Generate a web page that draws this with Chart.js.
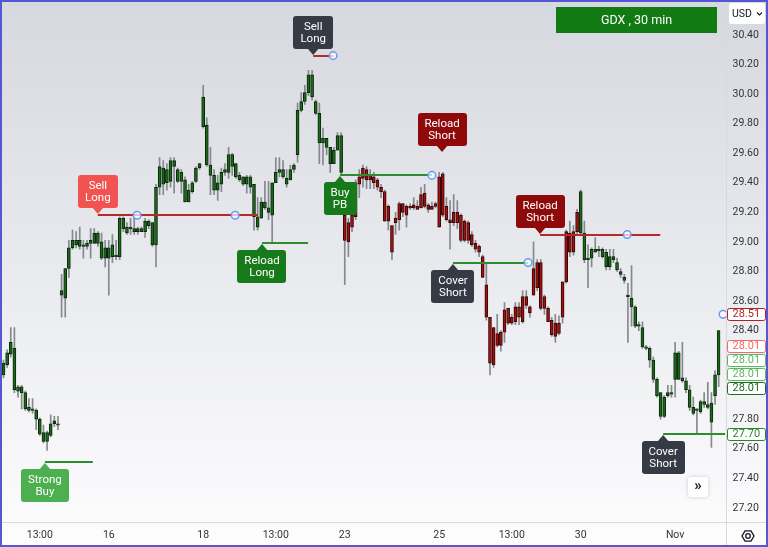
<!DOCTYPE html>
<html>
<head>
<meta charset="utf-8">
<script src="https://cdn.jsdelivr.net/npm/chart.js@4.4.0/dist/chart.umd.min.js"></script>
<style>
html, body { margin: 0; padding: 0; background: #fff; }
canvas { display: block; }
</style>
</head>
<body>
<canvas id="gdx" width="768" height="547"></canvas>
<script>
// GDX 30 min candles, Oct 11 (last 3 bars) to Nov 1

const sessions = ['Oct 11', 'Oct 12', 'Oct 13', 'Oct 16', 'Oct 17', 'Oct 18', 'Oct 19', 'Oct 20',
  'Oct 23', 'Oct 24', 'Oct 25', 'Oct 26', 'Oct 27', 'Oct 30', 'Oct 31', 'Nov 1'];
const halfHours = ['09:30', '10:00', '10:30', '11:00', '11:30', '12:00', '12:30',
  '13:00', '13:30', '14:00', '14:30', '15:00', '15:30'];

// one row per session (first row = last 3 bars of Oct 11)
const opens = [
  28.10, 28.17, 28.24,
  28.28, 27.99, 28.02, 27.98, 27.88, 27.87, 27.86, 27.80, 27.71, 27.65, 27.69, 27.77, 27.77,
  28.64, 28.62, 28.82, 28.96, 29.01, 28.97, 28.98, 28.97, 28.99, 28.99, 29.06, 29.00, 28.89,
  28.96, 28.90, 28.91, 28.90, 29.16, 29.10, 29.09, 29.09, 29.07, 29.09, 29.07, 29.14, 29.13,
  28.98, 29.37, 29.50, 29.40, 29.41, 29.55, 29.49, 29.41, 29.42, 29.27, 29.34, 29.41, 29.50,
  29.78, 29.79, 29.52, 29.45, 29.35, 29.39, 29.47, 29.47, 29.59, 29.53, 29.45, 29.44, 29.39,
  29.44, 29.39, 29.17, 29.16, 29.27, 29.23, 29.18, 29.40, 29.47, 29.49, 29.43, 29.42, 29.49,
  29.59, 29.89, 29.95, 30.01, 30.13, 29.95, 29.87, 29.67, 29.70, 29.64, 29.53, 29.62, 29.72,
  29.18, 29.00, 29.10, 29.17, 29.39, 29.43, 29.49, 29.42, 29.44, 29.42, 29.37, 29.34, 29.14,
  29.11, 29.13, 29.15, 29.26, 29.18, 29.24, 29.23, 29.24, 29.23, 29.33, 29.25, 29.22, 29.24,
  29.44, 29.18, 29.24, 29.15, 29.13, 29.20, 29.18, 29.01, 29.13, 29.05, 28.99, 28.97, 28.90,
  28.71, 28.49, 28.17, 28.38, 28.30, 28.39, 28.55, 28.45, 28.46, 28.56, 28.46, 28.63, 28.56,
  28.64, 28.69, 28.86, 28.55, 28.55, 28.47, 28.36, 28.45, 28.49, 28.73, 29.06, 28.93, 29.07,
  29.06, 29.06, 28.88, 28.89, 28.95, 28.94, 28.95, 28.93, 28.83, 28.90, 28.86, 28.80, 28.76,
  28.64, 28.62, 28.56, 28.43, 28.42, 28.29, 28.28, 28.20, 28.07, 27.98, 27.82, 27.96, 27.97,
  28.07, 28.25, 28.08, 28.06, 28.00, 27.88, 27.86, 27.85, 27.92, 27.90, 27.91, 27.96, 28.10
];
const highs = [
  28.20, 28.27, 28.42,
  28.42, 28.03, 28.03, 27.99, 27.94, 27.94, 27.87, 27.81, 27.76, 27.72, 27.83, 27.82, 27.82,
  28.78, 28.82, 29.01, 29.08, 29.07, 29.10, 29.01, 29.01, 29.09, 29.09, 29.07, 29.06, 29.01,
  29.01, 29.05, 29.01, 29.17, 29.17, 29.13, 29.16, 29.16, 29.10, 29.10, 29.16, 29.15, 29.13,
  29.39, 29.57, 29.55, 29.53, 29.57, 29.57, 29.50, 29.49, 29.44, 29.39, 29.41, 29.51, 29.53,
  30.06, 29.84, 29.64, 29.49, 29.45, 29.50, 29.53, 29.64, 29.60, 29.53, 29.47, 29.44, 29.45,
  29.45, 29.39, 29.30, 29.30, 29.41, 29.41, 29.40, 29.57, 29.57, 29.55, 29.49, 29.52, 29.53,
  29.94, 30.01, 30.06, 30.16, 30.16, 29.96, 29.94, 29.77, 29.70, 29.64, 29.64, 29.74, 29.74,
  29.18, 29.16, 29.25, 29.42, 29.49, 29.52, 29.51, 29.49, 29.47, 29.43, 29.39, 29.35, 29.25,
  29.11, 29.20, 29.27, 29.26, 29.25, 29.26, 29.30, 29.28, 29.37, 29.39, 29.26, 29.27, 29.27,
  29.47, 29.47, 29.30, 29.28, 29.32, 29.28, 29.19, 29.15, 29.14, 29.07, 29.01, 28.98, 28.91,
  28.86, 28.49, 28.42, 28.51, 28.40, 28.59, 28.55, 28.51, 28.59, 28.59, 28.67, 28.67, 28.57,
  29.00, 28.88, 28.88, 28.64, 28.56, 28.49, 28.51, 28.50, 28.73, 29.08, 29.14, 29.11, 29.22,
  29.35, 29.14, 28.98, 28.96, 29.03, 28.97, 28.96, 28.95, 28.95, 28.95, 28.89, 28.82, 28.78,
  28.72, 28.84, 28.57, 28.46, 28.46, 28.30, 28.29, 28.22, 28.08, 27.98, 27.96, 28.03, 28.03,
  28.32, 28.26, 28.32, 28.08, 28.03, 27.95, 27.87, 27.93, 27.98, 28.05, 27.98, 28.13, 28.40
];
const lows = [
  28.08, 28.15, 28.22,
  27.98, 27.95, 27.87, 27.86, 27.85, 27.84, 27.73, 27.69, 27.64, 27.59, 27.68, 27.75, 27.73,
  28.49, 28.49, 28.76, 28.95, 28.96, 28.95, 28.89, 28.95, 28.89, 28.99, 28.97, 28.88, 28.83,
  28.64, 28.86, 28.88, 28.88, 29.07, 29.05, 29.05, 29.05, 29.05, 29.07, 29.03, 29.09, 28.97,
  28.83, 29.32, 29.32, 29.35, 29.37, 29.33, 29.40, 29.33, 29.27, 29.27, 29.33, 29.40, 29.49,
  29.77, 29.51, 29.32, 29.32, 29.28, 29.34, 29.45, 29.43, 29.45, 29.43, 29.41, 29.38, 29.33,
  29.33, 29.08, 29.08, 29.16, 29.22, 29.15, 28.99, 29.40, 29.44, 29.43, 29.37, 29.42, 29.47,
  29.54, 29.88, 29.93, 29.99, 29.96, 29.86, 29.53, 29.52, 29.59, 29.47, 29.53, 29.62, 29.45,
  28.71, 28.90, 29.07, 29.15, 29.30, 29.37, 29.36, 29.36, 29.36, 29.35, 29.30, 29.14, 29.08,
  28.88, 29.05, 29.08, 29.17, 29.10, 29.22, 29.22, 29.22, 29.23, 29.23, 29.20, 29.22, 29.23,
  29.10, 29.17, 29.14, 28.95, 29.11, 29.09, 29.00, 29.00, 28.99, 28.97, 28.93, 28.90, 28.76,
  28.47, 28.10, 28.15, 28.29, 28.26, 28.32, 28.44, 28.44, 28.44, 28.44, 28.45, 28.55, 28.49,
  28.64, 28.67, 28.54, 28.51, 28.46, 28.36, 28.32, 28.37, 28.45, 28.72, 28.90, 28.91, 29.05,
  29.05, 28.86, 28.69, 28.83, 28.93, 28.90, 28.89, 28.81, 28.81, 28.86, 28.80, 28.76, 28.72,
  28.32, 28.43, 28.42, 28.40, 28.28, 28.27, 28.15, 28.05, 27.95, 27.80, 27.81, 27.95, 27.95,
  27.95, 28.07, 28.05, 27.98, 27.86, 27.83, 27.71, 27.84, 27.88, 27.87, 27.61, 27.90, 28.02
];
const closes = [
  28.18, 28.25, 28.32,
  28.00, 28.02, 27.98, 27.87, 27.86, 27.86, 27.80, 27.70, 27.65, 27.71, 27.77, 27.79, 27.76,
  28.67, 28.82, 28.96, 29.01, 28.98, 29.01, 28.97, 28.99, 29.01, 29.06, 28.99, 28.89, 28.96,
  28.89, 28.98, 28.90, 29.16, 29.09, 29.06, 29.10, 29.07, 29.09, 29.07, 29.14, 29.11, 28.98,
  29.37, 29.51, 29.39, 29.49, 29.55, 29.51, 29.41, 29.47, 29.27, 29.35, 29.40, 29.50, 29.53,
  29.98, 29.52, 29.45, 29.35, 29.40, 29.47, 29.49, 29.59, 29.51, 29.44, 29.42, 29.39, 29.44,
  29.37, 29.17, 29.10, 29.27, 29.23, 29.20, 29.40, 29.47, 29.49, 29.44, 29.39, 29.49, 29.52,
  29.89, 29.95, 30.01, 30.13, 29.98, 29.87, 29.67, 29.70, 29.64, 29.53, 29.62, 29.72, 29.47,
  29.01, 29.13, 29.18, 29.40, 29.44, 29.50, 29.42, 29.45, 29.40, 29.37, 29.34, 29.14, 29.24,
  28.93, 29.16, 29.26, 29.20, 29.24, 29.23, 29.25, 29.22, 29.32, 29.24, 29.22, 29.24, 29.26,
  29.10, 29.46, 29.15, 29.13, 29.20, 29.13, 29.01, 29.14, 29.01, 28.98, 28.95, 28.93, 28.76,
  28.49, 28.18, 28.42, 28.30, 28.39, 28.54, 28.45, 28.49, 28.56, 28.49, 28.63, 28.57, 28.52,
  28.82, 28.86, 28.55, 28.63, 28.46, 28.37, 28.45, 28.38, 28.73, 29.07, 28.93, 29.07, 29.20,
  29.34, 28.88, 28.89, 28.95, 28.93, 28.95, 28.90, 28.83, 28.90, 28.88, 28.81, 28.78, 28.74,
  28.63, 28.56, 28.43, 28.44, 28.29, 28.28, 28.20, 28.07, 27.96, 27.82, 27.95, 27.98, 27.98,
  28.25, 28.07, 28.06, 28.00, 27.88, 27.84, 27.87, 27.92, 27.90, 27.88, 27.78, 28.10, 28.40
];

// bars painted red while the indicator is short
const shortFrom = 94, shortTo = 158;

// axis ticks
const priceTicks = [27.2, 27.4, 27.6, 27.8, 28.0, 28.2, 28.4, 28.6, 28.8, 29.0, 29.2, 29.4, 29.6, 29.8, 30.0, 30.2, 30.4];
const tickBars = ['Oct 12 13:00', 'Oct 16 09:30', 'Oct 18 09:30', 'Oct 19 13:00', 'Oct 23 09:30',
  'Oct 25 09:30', 'Oct 26 13:00', 'Oct 30 09:30', 'Nov 1 09:30'];
const tickText = ['13:00', '16', '18', '13:00', '23', '25', '13:00', '30', 'Nov'];

// signals (bar index, price)
const sigText = ['Strong\nBuy', 'Sell\nLong', 'Reload\nLong', 'Sell\nLong', 'Buy\nPB',
  'Reload\nShort', 'Cover\nShort', 'Reload\nShort', 'Cover\nShort'];
const sigBar = [11.4, 26.0, 71.2, 85.3, 92.7, 120.8, 123.8, 147.8, 181.7];
const sigEnd = [24.6, 70.1, 83.9, 90.8, 118.0, null, 144.5, 180.9, 198.9];
const sigPrice = [27.51, 29.18, 28.99, 30.26, 29.45, 29.60, 28.86, 29.05, 27.70];
const markBar = [36.8, 63.8, 90.8, 118.0, 144.5, 171.8, 198.2];
const markPrice = [29.18, 29.18, 30.26, 29.45, 28.86, 29.05, 28.51];

// price scale tags
const tagPrices = [28.51, 28.01, 28.01, 28.01, 28.01, 27.70];

// styles
const sigStyle = [
  { box: '#4caf50', line: '#2e8b2e', below: true },
  { box: '#f05350', line: '#b22a2a', below: false },
  { box: '#17791a', line: '#2e8b2e', below: true },
  { box: '#363a45', line: '#b22a2a', below: false },
  { box: '#17791a', line: '#2e8b2e', below: true },
  { box: '#8e0a0a', line: null, below: false },
  { box: '#363a45', line: '#2e8b2e', below: true },
  { box: '#8e0a0a', line: '#b22a2a', below: false },
  { box: '#363a45', line: '#2e8b2e', below: true }
];
const tagColors = ['#b22222', '#f26a6a', '#5cb85f', '#5cb85f', '#1d6b1d', '#2a852a'];
const font = 'Roboto';

const labels = [];
sessions.forEach((d, k) => halfHours.forEach((t, j) => {
  if (k > 0 || j >= 10) labels.push(d + ' ' + t);
}));

const isShort = i => i >= shortFrom && i <= shortTo;
const bodyFill = labels.map((_, i) => isShort(i) ? '#a01212' : '#1b6a1b');
const bodyEdge = labels.map((_, i) => isShort(i) ? '#360505' : '#0a260a');

function layoutTags(chart) {
  const y = chart.scales.y;
  const out = tagPrices.map(p => ({ p, y: y.getPixelForValue(p) }));
  for (let k = out.length - 2; k >= 0; k--) {
    if (out[k].y > out[k + 1].y - 14) out[k].y = out[k + 1].y - 14;
  }
  return out;
}

function signalBox(ctx, x, y, text, fill, below) {
  const rows = text.split('\n');
  ctx.font = '11.5px ' + font;
  const w = Math.round(Math.max(...rows.map(r => ctx.measureText(r).width)) + 14);
  const h = 33, gap = 7;
  const top = below ? y + gap : y - gap - h;
  ctx.fillStyle = fill;
  ctx.beginPath();
  ctx.roundRect(Math.round(x - w / 2), top, w, h, 3);
  ctx.fill();
  ctx.beginPath();
  if (below) {
    ctx.moveTo(x - 6, top + 1); ctx.lineTo(x, y + 1); ctx.lineTo(x + 6, top + 1);
  } else {
    ctx.moveTo(x - 6, top + h - 1); ctx.lineTo(x, y - 1); ctx.lineTo(x + 6, top + h - 1);
  }
  ctx.closePath();
  ctx.fill();
  ctx.fillStyle = '#fff';
  ctx.textAlign = 'center';
  ctx.textBaseline = 'middle';
  ctx.fillText(rows[0], x, top + 11);
  ctx.fillText(rows[1], x, top + 23);
}

const decor = {
  id: 'decor',
  beforeDraw(chart) {
    const { ctx, width, height } = chart;
    const g = ctx.createLinearGradient(0, 0, 0, height);
    g.addColorStop(0, '#d6d8df');
    g.addColorStop(1, '#fdfdfe');
    ctx.save();
    ctx.fillStyle = g;
    ctx.fillRect(0, 0, width, height);
    ctx.restore();
  },
  afterDatasetsDraw(chart) {
    const { ctx } = chart;
    const xs = chart.scales.x, ys = chart.scales.y;
    ctx.save();
    // signal lines
    sigBar.forEach((b, k) => {
      const st = sigStyle[k];
      if (sigEnd[k] === null) return;
      const y = Math.round(ys.getPixelForValue(sigPrice[k]));
      ctx.strokeStyle = st.line;
      ctx.lineWidth = 2;
      ctx.beginPath();
      ctx.moveTo(xs.getPixelForValue(b), y);
      ctx.lineTo(Math.min(xs.getPixelForValue(sigEnd[k]), 725), y);
      ctx.stroke();
    });
    // anchor circles
    markBar.forEach((b, k) => {
      ctx.beginPath();
      ctx.arc(xs.getPixelForValue(b), ys.getPixelForValue(markPrice[k]), 3.8, 0, Math.PI * 2);
      ctx.fillStyle = 'rgba(255,255,255,0.7)';
      ctx.fill();
      ctx.strokeStyle = '#6a9af2';
      ctx.lineWidth = 1.5;
      ctx.stroke();
    });
    // signal labels
    sigBar.forEach((b, k) => {
      signalBox(ctx, xs.getPixelForValue(b), Math.round(ys.getPixelForValue(sigPrice[k])),
        sigText[k], sigStyle[k].box, sigStyle[k].below);
    });
    ctx.restore();
  },
  afterDraw(chart) {
    const { ctx } = chart;
    ctx.save();
    // separators
    ctx.strokeStyle = '#d7d9df';
    ctx.lineWidth = 1;
    ctx.beginPath();
    ctx.moveTo(726.5, 0); ctx.lineTo(726.5, 547);
    ctx.moveTo(0, 522.5); ctx.lineTo(768, 522.5);
    ctx.stroke();

    // price tags
    ctx.font = '11px ' + font;
    ctx.textAlign = 'left';
    ctx.textBaseline = 'middle';
    layoutTags(chart).forEach((t, k) => {
      ctx.beginPath();
      ctx.roundRect(727.5, Math.round(t.y) - 5.5, 38, 12, 2);
      ctx.fillStyle = '#fff';
      ctx.fill();
      ctx.strokeStyle = tagColors[k];
      ctx.lineWidth = 1;
      ctx.stroke();
      ctx.fillStyle = tagColors[k];
      ctx.fillText(t.p.toFixed(2), 732.5, Math.round(t.y) + 0.5);
    });

    // title badge
    ctx.fillStyle = '#127a12';
    ctx.fillRect(556, 7, 161, 26);
    ctx.fillStyle = '#fff';
    ctx.font = '12.5px ' + font;
    ctx.textAlign = 'center';
    ctx.fillText('GDX , 30 min', 636.5, 20.5);

    // currency box
    ctx.fillStyle = '#fff';
    ctx.beginPath();
    ctx.roundRect(729, 3, 36, 21, 2);
    ctx.fill();
    ctx.fillStyle = '#131722';
    ctx.font = '10.5px ' + font;
    ctx.textAlign = 'left';
    ctx.fillText('USD', 732, 14);
    ctx.strokeStyle = '#131722';
    ctx.lineWidth = 1.1;
    ctx.beginPath();
    ctx.moveTo(757, 12.5); ctx.lineTo(759.5, 15); ctx.lineTo(762, 12.5);
    ctx.stroke();

    // scroll button
    ctx.save();
    ctx.shadowColor = 'rgba(0,0,0,0.18)';
    ctx.shadowBlur = 4;
    ctx.fillStyle = '#fff';
    ctx.beginPath();
    ctx.roundRect(688, 477, 20, 20, 3);
    ctx.fill();
    ctx.restore();
    ctx.fillStyle = '#131722';
    ctx.font = 'bold 15px ' + font;
    ctx.textAlign = 'center';
    ctx.fillText('\u00bb', 698, 486);

    // settings gear
    ctx.strokeStyle = '#131722';
    ctx.lineWidth = 1.3;
    ctx.beginPath();
    for (let k = 0; k < 6; k++) {
      const a = k * Math.PI / 3;
      const px = 748 + 6 * Math.cos(a), py = 536 + 6 * Math.sin(a);
      if (k === 0) ctx.moveTo(px, py); else ctx.lineTo(px, py);
    }
    ctx.closePath();
    ctx.stroke();
    ctx.beginPath();
    ctx.arc(748, 536, 2.3, 0, Math.PI * 2);
    ctx.stroke();

    // frame
    ctx.strokeStyle = '#5357d4';
    ctx.lineWidth = 2;
    ctx.strokeRect(1, 1, 766, 545);
    ctx.restore();
  }
};

new Chart('gdx', {
  type: 'bar',
  data: {
    labels: labels,
    datasets: [{
      label: 'body',
      data: opens.map((o, i) => [o, closes[i]]),
      backgroundColor: bodyFill,
      borderColor: bodyEdge,
      borderWidth: 1,
      borderSkipped: false,
      barThickness: 3,
      minBarLength: 1,
      grouped: false,
      order: 0
    }, {
      label: 'wick',
      data: lows.map((l, i) => [l, highs[i]]),
      backgroundColor: '#85888e',
      borderWidth: 0,
      barThickness: 1,
      grouped: false,
      order: 1
    }]
  },
  options: {
    responsive: false,
    animation: false,
    events: [],
    layout: { padding: { left: 1.7, top: 2, right: 0, bottom: 0 } },
    plugins: { legend: { display: false }, tooltip: { enabled: false } },
    scales: {
      x: {
        offset: true,
        border: { display: false },
        grid: {
          offset: false,
          drawTicks: false,
          color: c => tickBars.includes(labels[c.index]) ? 'rgba(40,44,60,0.05)' : 'rgba(0,0,0,0)'
        },
        ticks: {
          autoSkip: false,
          maxRotation: 0,
          padding: 7,
          color: '#333',
          font: { family: font, size: 10.5 },
          callback(v) {
            const k = tickBars.indexOf(this.getLabelForValue(v));
            return k < 0 ? null : tickText[k];
          }
        },
        afterFit(s) { s.height = 25; s.paddingLeft = 0; s.paddingRight = 0; }
      },
      y: {
        position: 'right',
        min: 27.105,
        max: 30.623,
        border: { display: false },
        grid: { display: false, drawTicks: false },
        afterBuildTicks(s) { s.ticks = priceTicks.map(v => ({ value: v })); },
        ticks: {
          padding: 12,
          font: { family: font, size: 10.5 },
          color: c => {
            const py = c.chart.scales.y.getPixelForValue(c.tick.value);
            const hit = layoutTags(c.chart).some(t => Math.abs(t.y - py) < 11);
            return hit ? 'rgba(0,0,0,0)' : '#333';
          },
          callback: v => v.toFixed(2)
        },
        afterFit(s) { s.width = 47.5; s.paddingTop = 0; s.paddingBottom = 0; }
      }
    }
  },
  plugins: [decor]
});
</script>
</body>
</html>
